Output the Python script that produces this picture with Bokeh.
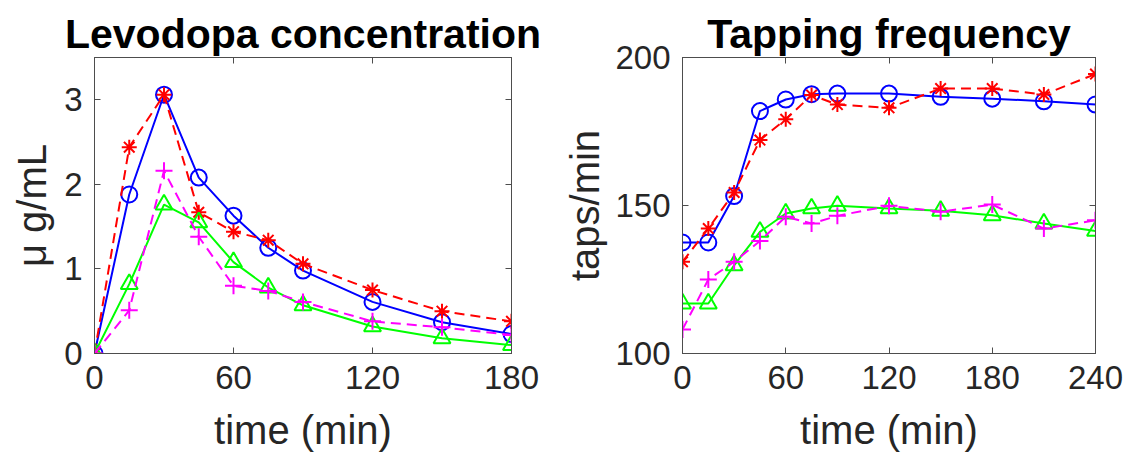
from bokeh.plotting import figure
from bokeh.layouts import row
from bokeh.models import Range1d, FixedTicker, LinearAxis
from bokeh.embed import file_html
from bokeh.resources import INLINE

# ---- data: Levodopa concentration ----
t_conc = [0, 15, 30, 45, 60, 75, 90, 120, 150, 180]
conc_blue = [0.0, 1.88, 3.06, 2.08, 1.63, 1.25, 0.98, 0.61, 0.37, 0.23]
conc_red = [0.0, 2.44, 3.06, 1.67, 1.44, 1.34, 1.06, 0.75, 0.50, 0.38]
conc_magenta = [0.0, 0.51, 2.16, 1.38, 0.80, 0.74, 0.61, 0.38, 0.31, 0.22]
conc_green = [0.0, 0.82, 1.76, 1.55, 1.08, 0.78, 0.57, 0.32, 0.18, 0.10]

# ---- data: Tapping frequency ----
t_tap = [0, 15, 30, 45, 60, 75, 90, 120, 150, 180, 210, 240]
tap_blue = [137.5, 137.5, 153.2, 181.9, 185.8, 187.6, 187.8, 187.8, 186.7, 186.1, 185.2, 184.1]
tap_red = [131.0, 142.2, 154.4, 172.1, 179.1, 187.3, 184.1, 183.0, 189.5, 189.5, 187.5, 194.4]
tap_magenta = [108.1, 125.0, 131.0, 138.0, 146.2, 143.9, 146.5, 149.9, 147.9, 150.3, 142.2, 145.0]
tap_green = [116.9, 116.9, 129.8, 141.1, 147.3, 149.0, 149.9, 149.0, 148.2, 146.7, 143.9, 141.4]

conc_xticks = [0, 60, 120, 180]
conc_yticks = [0, 1, 2, 3]
tap_xticks = [0, 60, 120, 180, 240]
tap_yticks = [100, 150, 200]

FONT = "Liberation Sans"
AX = "#4d4d4d"
TXT = "#262626"


def box_axis(ticks):
    return LinearAxis(ticker=FixedTicker(ticks=ticks), major_tick_in=6, major_tick_out=0,
                      minor_tick_in=0, minor_tick_out=0,
                      major_label_overrides={t: "" for t in ticks},
                      axis_line_color=AX, major_tick_line_color=AX, major_label_standoff=0)


def style(p, xticks, yticks, ylabel, ylabel_standoff):
    p.outline_line_color = AX
    p.outline_line_width = 1
    p.grid.visible = False
    p.title.text_font = FONT
    p.title.text_font_size = "41px"
    p.title.text_font_style = "bold"
    p.title.text_color = "black"
    p.title.align = "center"
    p.title.standoff = 2
    for ax in p.xaxis + p.yaxis:
        ax.major_tick_in = 6
        ax.major_tick_out = 0
        ax.minor_tick_in = 0
        ax.minor_tick_out = 0
        ax.axis_line_color = AX
        ax.major_tick_line_color = AX
        ax.major_label_text_font = FONT
        ax.major_label_text_font_size = "33px"
        ax.major_label_text_color = TXT
        ax.major_label_standoff = 12
        ax.axis_label_text_font = FONT
        ax.axis_label_text_font_size = "40px"
        ax.axis_label_text_font_style = "normal"
        ax.axis_label_text_color = TXT
    p.xaxis.ticker = FixedTicker(ticks=xticks)
    p.yaxis.ticker = FixedTicker(ticks=yticks)
    p.xaxis.axis_label = "time (min)"
    p.xaxis.axis_label_standoff = 16
    p.yaxis.axis_label = ylabel
    p.yaxis.axis_label_standoff = ylabel_standoff
    p.add_layout(box_axis(xticks), "above")
    p.add_layout(box_axis(yticks), "right")


def series(p, x, yb, yr, yg, ym):
    p.line(x, yb, line_color="#0000ff", line_width=2)
    p.scatter(x, yb, marker="circle", size=16, line_color="#0000ff", fill_color=None, line_width=2)
    p.line(x, yr, line_color="#ff0000", line_width=2, line_dash="10 6")
    p.scatter(x, yr, marker="asterisk", size=15, line_color="#ff0000", line_width=2)
    p.line(x, yg, line_color="#00ff00", line_width=2)
    p.scatter(x, yg, marker="triangle", size=17, line_color="#00ff00", fill_color=None, line_width=2)
    p.line(x, ym, line_color="#ff00ff", line_width=2, line_dash="10 6")
    p.scatter(x, ym, marker="cross", size=17, line_color="#ff00ff", line_width=2)


p1 = figure(width=560, height=463, output_backend="svg", toolbar_location=None,
            title="Levodopa concentration",
            x_range=Range1d(0, 180), y_range=Range1d(0, 3.5),
            min_border_left=94, min_border_right=49, min_border_top=57, min_border_bottom=110)
style(p1, conc_xticks, conc_yticks, "μ g/mL", 7)
series(p1, t_conc, conc_blue, conc_red, conc_green, conc_magenta)

p2 = figure(width=580, height=463, output_backend="svg", toolbar_location=None,
            title="Tapping frequency",
            x_range=Range1d(0, 240), y_range=Range1d(100, 200),
            min_border_left=117, min_border_right=45, min_border_top=57, min_border_bottom=110)
style(p2, tap_xticks, tap_yticks, "taps/min", 5)
series(p2, t_tap, tap_blue, tap_red, tap_green, tap_magenta)

layout = row(p1, p2)
open("out.html", "w").write(file_html(layout, INLINE))
